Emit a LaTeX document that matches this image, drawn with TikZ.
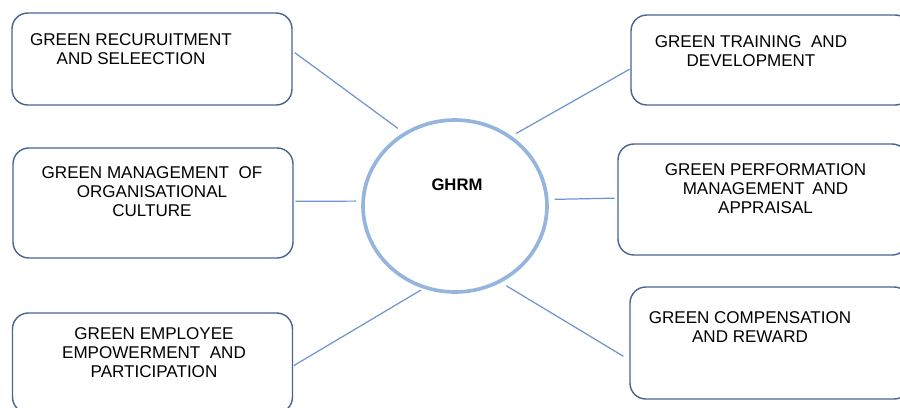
\documentclass[tikz,border=0pt]{standalone}
\usepackage{fontspec}
\setmainfont{Liberation Sans}
\usetikzlibrary{shapes.geometric}
\definecolor{boxline}{RGB}{72,100,145}
\definecolor{linkline}{RGB}{110,150,205}
\definecolor{hubline}{RGB}{149,181,222}
\begin{document}
\begin{tikzpicture}[x=0.02cm, y=-0.02cm,
  every node/.style={font=\fontsize{9.7}{10.8}\selectfont, align=center, inner sep=0pt},
  areabox/.style={draw=boxline, line width=0.8pt, rounded corners=9pt, minimum width=5.6cm},
  hub/.style={ellipse, draw=hubline, line width=2.1pt, minimum width=3.68cm, minimum height=3.44cm},
  link/.style={draw=linkline, line width=0.7pt}]
\useasboundingbox (0,0) rectangle (900,407);
\clip (0,0) rectangle (900,407);

% Practice boxes, left column
\node[areabox, minimum height=1.84cm] (recruit) at (152,59) {};
\node[areabox, minimum height=2.20cm] (culture) at (153,203) {};
\node[areabox, minimum height=2.00cm] (empower) at (152.5,363) {};

% Practice boxes, right column
\node[areabox, minimum height=1.80cm] (training) at (771,60) {};
\node[areabox, minimum height=2.22cm, minimum width=5.8cm] (appraisal) at (763,199.5) {};
\node[areabox, minimum height=2.24cm] (reward) at (770,343) {};

% Box texts
\node (recruittext) at (131,49) {GREEN RECURUITMENT\\AND SELEECTION};
\node (culturetext) at (152,192) {GREEN MANAGEMENT\ \ OF\\ORGANISATIONAL\\CULTURE};
\node (empowertext) at (154,353) {GREEN EMPLOYEE\\EMPOWERMENT\ \ AND\\PARTICIPATION};
\node (trainingtext) at (751,51) {GREEN TRAINING\ \ AND\\DEVELOPMENT};
\node (appraisaltext) at (765.5,188.5) {GREEN PERFORMATION\\MANAGEMENT\hspace{1.5pt} AND\\APPRAISAL};
\node (rewardtext) at (750,327) {GREEN COMPENSATION\\AND REWARD};

% Hub
\node[hub] (ghrm) at (455,206) {};
\node[font=\fontsize{9.5}{11}\selectfont\bfseries] (ghrmtext) at (457,185) {GHRM};

% Connectors
\draw[link, shorten <=1.5pt, shorten >=4pt] ([yshift=4.5pt]recruit.east) -- (ghrm.125);
\draw[link, shorten <=1pt, shorten >=3pt] ([yshift=1pt]culture.east) -- (ghrm.177);
\draw[link, shorten <=0.5pt, shorten >=1.5pt] ([yshift=-1.7pt]empower.east) -- (ghrm.249.5);
\draw[link, shorten <=0.5pt, shorten >=3pt] ([yshift=-5pt]training.west) -- (ghrm.51.5);
\draw[link, shorten <=1.5pt, shorten >=3.5pt] ([yshift=0.8pt]appraisal.west) -- (ghrm.4.7);
\draw[link, shorten <=4pt, shorten >=3.5pt] ([yshift=-9.6pt]reward.west) -- (ghrm.301.5);
\end{tikzpicture}
\end{document}
